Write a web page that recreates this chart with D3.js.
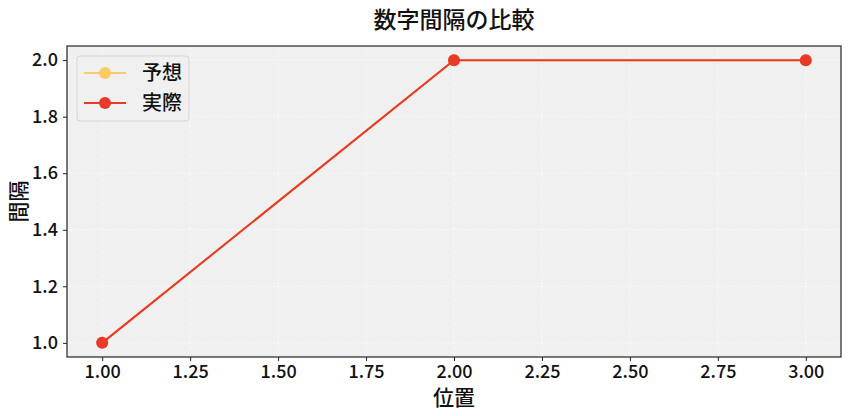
<!DOCTYPE html>
<html>
<head>
<meta charset="utf-8">
<script src="https://cdn.jsdelivr.net/npm/d3@7"></script>
<style>
  body { margin: 0; background: #fff; }
  text { font-family: "Noto Sans CJK JP", "Noto Sans", sans-serif; font-weight: 500; }
</style>
</head>
<body>
<svg id="chart"></svg>
<script>
const width = 848;
const height = 416;

// data
const positions = [1, 2, 3];
const predicted = [1, 2, 2];
const actual = [1, 2, 2];
const xTicks = [1.00, 1.25, 1.50, 1.75, 2.00, 2.25, 2.50, 2.75, 3.00];
const yTicks = [1.0, 1.2, 1.4, 1.6, 1.8, 2.0];
const seriesNames = ['予想', '実際'];
const seriesColors = ['#ffc966', '#e8392a'];

const margin = {top: 46, right: 7, bottom: 59, left: 67};
const plotW = width - margin.left - margin.right;
const plotH = height - margin.top - margin.bottom;

const svg = d3.select('#chart').attr('width', width).attr('height', height);

const x = d3.scaleLinear().domain([0.9, 3.1]).range([0, plotW]);
const y = d3.scaleLinear().domain([0.95, 2.05]).range([plotH, 0]);

const g = svg.append('g').attr('transform', `translate(${margin.left},${margin.top})`);

g.append('rect')
    .attr('width', plotW).attr('height', plotH)
    .attr('fill', '#f0f0f0');

// faint grid
g.append('g').selectAll('line.vx')
    .data(xTicks).enter().append('line')
    .attr('x1', d => x(d)).attr('x2', d => x(d))
    .attr('y1', 0).attr('y2', plotH)
    .attr('stroke', '#fff').attr('stroke-opacity', 0.5)
    .attr('stroke-dasharray', '4,2');
g.append('g').selectAll('line.hy')
    .data(yTicks).enter().append('line')
    .attr('y1', d => y(d)).attr('y2', d => y(d))
    .attr('x1', 0).attr('x2', plotW)
    .attr('stroke', '#fff').attr('stroke-opacity', 0.5)
    .attr('stroke-dasharray', '4,2');

// axes
const xAxis = g.append('g')
    .attr('transform', `translate(0,${plotH})`)
    .call(d3.axisBottom(x).tickValues(xTicks).tickFormat(d3.format('.2f')).tickSize(4).tickPadding(3));
const yAxis = g.append('g')
    .call(d3.axisLeft(y).tickValues(yTicks).tickFormat(d3.format('.1f')).tickSize(4).tickPadding(5));
[xAxis, yAxis].forEach(a => {
    a.select('.domain').remove();
    a.selectAll('text').attr('font-size', 18).attr('fill', '#111')
        .style('font-family', '"Noto Sans CJK JP", sans-serif');
    a.selectAll('line').attr('stroke', '#222');
});
xAxis.selectAll('text').attr('dy', '0.78em');

g.append('rect')
    .attr('width', plotW).attr('height', plotH)
    .attr('fill', 'none').attr('stroke', '#222').attr('stroke-width', 1.2);

// lines
const line = d3.line().x((d, i) => x(positions[i])).y(d => y(d));
[predicted, actual].forEach((series, si) => {
    g.append('path')
        .datum(series)
        .attr('d', line)
        .attr('fill', 'none')
        .attr('stroke', seriesColors[si])
        .attr('stroke-width', 2);
    g.append('g').selectAll('circle')
        .data(series).enter().append('circle')
        .attr('cx', (d, i) => x(positions[i]))
        .attr('cy', d => y(d))
        .attr('r', 6)
        .attr('fill', seriesColors[si]);
});

// legend
const legend = g.append('g').attr('transform', 'translate(10,10)');
legend.append('rect')
    .attr('width', 112).attr('height', 65).attr('rx', 3)
    .attr('fill', '#f0f0f0').attr('fill-opacity', 0.8)
    .attr('stroke', '#d6d6d6');
seriesNames.forEach((name, i) => {
    const row = legend.append('g').attr('transform', `translate(0,${17 + i * 30})`);
    row.append('line').attr('x1', 7).attr('x2', 49)
        .attr('stroke', seriesColors[i]).attr('stroke-width', 2);
    row.append('circle').attr('cx', 28).attr('r', 6).attr('fill', seriesColors[i]);
    row.append('text').attr('x', 65).attr('dy', '0.36em')
        .attr('font-size', 20).attr('fill', '#111').text(name);
});

// titles
svg.append('text')
    .attr('x', margin.left + plotW / 2).attr('y', 28)
    .attr('text-anchor', 'middle').attr('font-size', 23).attr('fill', '#111')
    .text('数字間隔の比較');
svg.append('text')
    .attr('x', margin.left + plotW / 2).attr('y', 405)
    .attr('text-anchor', 'middle').attr('font-size', 21).attr('fill', '#111')
    .text('位置');
svg.append('text')
    .attr('transform', `translate(18,${margin.top + plotH / 2}) rotate(-90)`)
    .attr('text-anchor', 'middle').attr('dy', '0.36em').attr('font-size', 21).attr('fill', '#111')
    .text('間隔');
</script>
</body>
</html>
